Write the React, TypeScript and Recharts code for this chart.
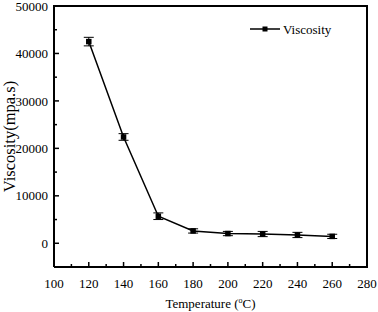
import React from 'react';
import {
  LineChart, Line, XAxis, YAxis, ErrorBar, Legend,
} from 'recharts';

const temperatures = [120, 140, 160, 180, 200, 220, 240, 260];
const viscosity = [42500, 22400, 5700, 2600, 2050, 1950, 1750, 1450];
const viscosityError = [900, 700, 700, 450, 450, 550, 550, 450];

const xTicks = [100, 110, 120, 130, 140, 150, 160, 170, 180, 190, 200, 210, 220, 230, 240, 250, 260, 270, 280];
const xLabels = [100, 120, 140, 160, 180, 200, 220, 240, 260, 280];
const yTicks = [-5000, 0, 5000, 10000, 15000, 20000, 25000, 30000, 35000, 40000, 45000, 50000];
const yLabels = [0, 10000, 20000, 30000, 40000, 50000];

const data = temperatures.map((t, i) => ({ t, v: viscosity[i], err: viscosityError[i] }));

const FONT = "'Liberation Serif', serif";
const CHART_W = 378;
const CHART_H = 312;
const MARGIN = { top: 6, right: 11, bottom: 0, left: 0 };
const Y_AXIS_W = 54;
const X_AXIS_H = 45;
const PLOT_W = CHART_W - MARGIN.left - MARGIN.right - Y_AXIS_W;
const PLOT_H = CHART_H - MARGIN.top - MARGIN.bottom - X_AXIS_H;
const X_MARGIN = 12;
const Y_MARGIN = 6;
const FRAME_W = 2;

const XTick = (props: any) => {
  const { x, y, payload } = props;
  const v = payload.value;
  const axisY = y - X_MARGIN;
  const major = xLabels.includes(v);
  const first = v === xTicks[0];
  const last = v === xTicks[xTicks.length - 1];
  return (
    <g>
      {!first && !last && (
        <line x1={x} x2={x} y1={axisY} y2={axisY - (major ? 5 : 3)} stroke="#000" strokeWidth={1.5} />
      )}
      {major && (
        <text x={x} y={y} dy="0.71em" textAnchor="middle" style={{ fontFamily: FONT, fontSize: 13 }} fill="#000">
          {v}
        </text>
      )}
    </g>
  );
};

const YTick = (props: any) => {
  const { x, y, payload } = props;
  const v = payload.value;
  const axisX = x + Y_MARGIN;
  const major = yLabels.includes(v);
  const first = v === yTicks[0];
  const last = v === yTicks[yTicks.length - 1];
  return (
    <g>
      {!first && !last && (
        <line x1={axisX} x2={axisX + (major ? 5 : 3)} y1={y} y2={y} stroke="#000" strokeWidth={1.5} />
      )}
      {major && (
        <text x={x} y={y} dy="0.36em" textAnchor="end" style={{ fontFamily: FONT, fontSize: 13 }} fill="#000">
          {v}
        </text>
      )}
    </g>
  );
};

const SquareDot = (props: any) => {
  const { cx, cy } = props;
  if (cx == null || cy == null) return null;
  return <rect x={cx - 2.75} y={cy - 2.75} width={5.5} height={5.5} fill="#000" />;
};

const LegendContent = () => (
  <div style={{ position: 'relative', width: 0, height: 0, overflow: 'visible' }}>
    <svg width={100} height={16} style={{ position: 'absolute', left: 0, top: 0, overflow: 'visible' }}>
      <line x1={0} x2={30} y1={8} y2={8} stroke="#000" strokeWidth={1.5} />
      <rect x={12.5} y={5.5} width={5} height={5} fill="#000" />
      <text x={33} y={8} dy="0.36em" style={{ fontFamily: FONT, fontSize: 13 }} fill="#000">Viscosity</text>
    </svg>
  </div>
);

const YTitle = (props: any) => {
  const { viewBox } = props;
  const cx = 9;
  const cy = viewBox.y + viewBox.height / 2;
  return (
    <text x={cx} y={cy} transform={`rotate(-90 ${cx} ${cy})`} textAnchor="middle" dy="0.36em"
      style={{ fontFamily: FONT, fontSize: 16.5 }} fill="#000">
      Viscosity(mpa.s)
    </text>
  );
};

const XTitle = (props: any) => {
  const { viewBox } = props;
  const cx = viewBox.x + viewBox.width / 2;
  const cy = 303;
  return (
    <text x={cx} y={cy} textAnchor="middle" dy="0.36em" style={{ fontFamily: FONT, fontSize: 13 }} fill="#000">
      Temperature (<tspan dy="-5" style={{ fontSize: 8 }}>o</tspan><tspan dy="5">C)</tspan>
    </text>
  );
};

const axisLineStyle = { stroke: '#000', strokeWidth: FRAME_W };

export default function App() {
  const frameLeft = MARGIN.left + Y_AXIS_W - FRAME_W / 2;
  const frameTop = MARGIN.top - FRAME_W / 2;
  return (
    <div style={{ position: 'absolute', left: 0, top: 0, width: CHART_W, height: CHART_H, background: '#fff', fontFamily: FONT }}>
      <LineChart width={CHART_W} height={CHART_H} data={data} margin={MARGIN}>
        <XAxis
          dataKey="t"
          type="number"
          domain={[100, 280]}
          ticks={xTicks}
          interval={0}
          height={X_AXIS_H}
          tickSize={0}
          tickMargin={X_MARGIN}
          axisLine={axisLineStyle}
          tick={<XTick />}
          label={{ content: <XTitle /> }}
        />
        <YAxis
          type="number"
          domain={[-5000, 50000]}
          ticks={yTicks}
          interval={0}
          width={Y_AXIS_W}
          tickSize={0}
          tickMargin={Y_MARGIN}
          axisLine={axisLineStyle}
          tick={<YTick />}
          label={{ content: <YTitle /> }}
        />
        <Legend
          verticalAlign="top"
          align="left"
          height={0}
          content={<LegendContent />}
          wrapperStyle={{ position: 'absolute', top: 21, left: 250, width: 0, height: 0 }}
        />
        <Line
          dataKey="v"
          stroke="#000"
          strokeWidth={1.5}
          dot={<SquareDot />}
          activeDot={false}
          isAnimationActive={false}
        >
          <ErrorBar dataKey="err" width={5} stroke="#000" strokeWidth={1} direction="y" />
        </Line>
      </LineChart>
      <div
        style={{
          position: 'absolute',
          left: frameLeft,
          top: frameTop,
          width: PLOT_W,
          height: PLOT_H,
          borderTop: `${FRAME_W}px solid #000`,
          borderRight: `${FRAME_W}px solid #000`,
          pointerEvents: 'none',
          boxSizing: 'content-box',
        }}
      />
    </div>
  );
}
